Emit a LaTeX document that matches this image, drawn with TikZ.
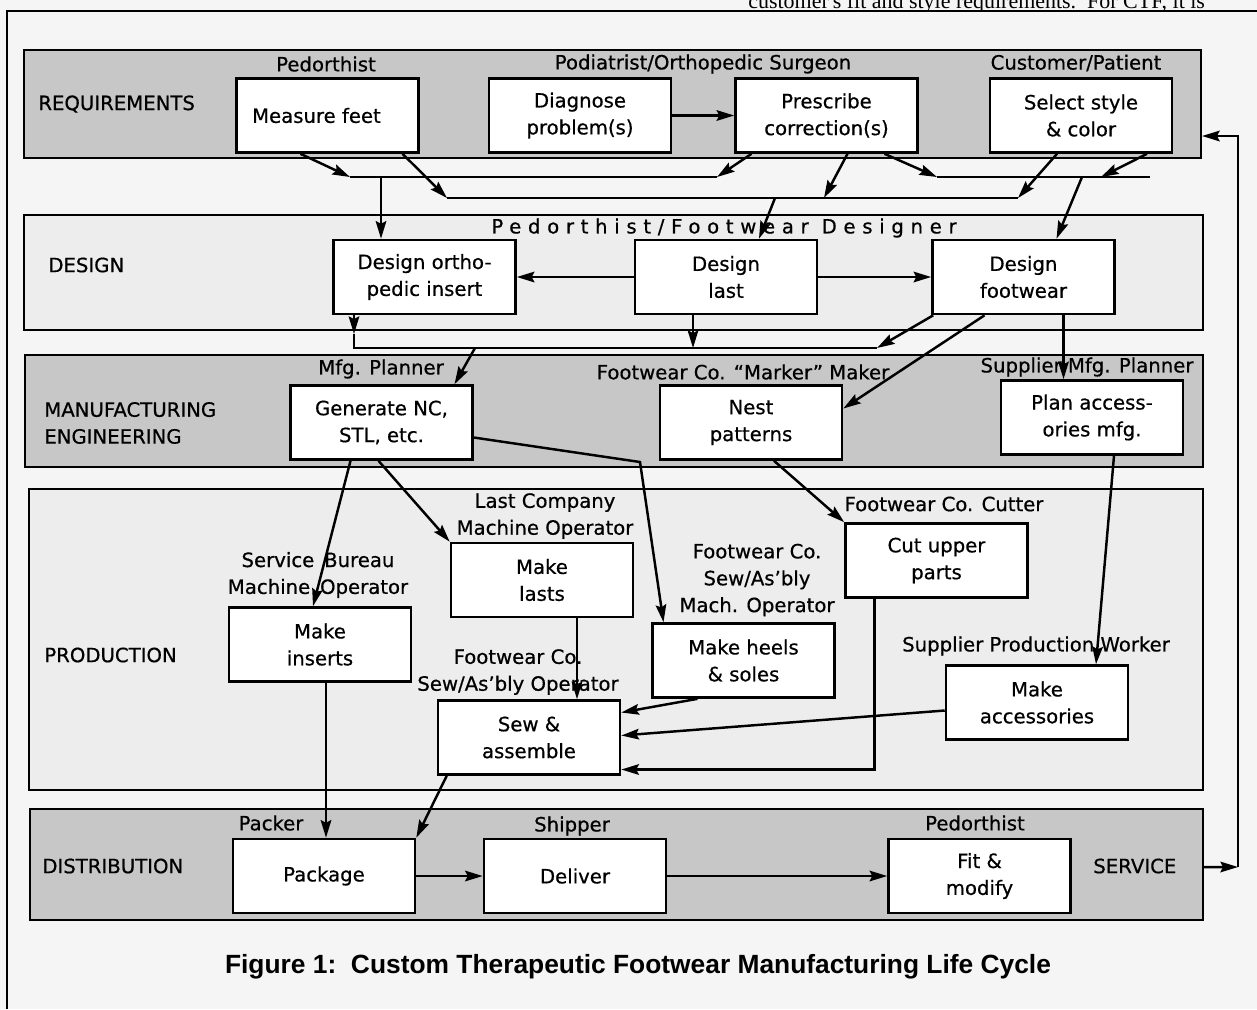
\documentclass[tikz,border=0pt]{standalone}
\usepackage{fontspec}
\setmainfont{DejaVu Sans}[UprightFeatures={FakeBold=0.6}]
\newfontfamily\captionfont{Liberation Sans}
\newfontfamily\paperfont{Liberation Serif}
\usepackage{tikz}
\usetikzlibrary{arrows.meta, calc}

\begin{document}
\begin{tikzpicture}[x=0.02cm, y=-0.02cm, font=\fontsize{11.2}{15.3}\selectfont]

\tikzstyle{band} = [rectangle, draw=black, line width=1.3pt, inner sep=0pt]
\tikzstyle{darkband} = [band, fill=black!22]
\tikzstyle{lightband} = [band, fill=black!7]
\tikzstyle{process} = [rectangle, draw=black, line width=1.5pt, fill=white, minimum width=3.64cm, minimum height=1.48cm, align=center, inner sep=0pt]
\tikzstyle{role} = [align=center, inner sep=0pt]
\tikzstyle{phase} = [anchor=west, align=left, inner sep=0pt]
\tikzstyle{arrow} = [line width=1.4pt, -{Stealth[length=10pt,width=6pt,inset=1.5pt]}]
\tikzstyle{bus} = [line width=1.4pt]

\useasboundingbox (0,0) rectangle (1257,1009);
\fill [black!4] (0,0) rectangle (1257,1009);
\draw [line width=0.7pt] (7,1009) -- (7,11) -- (1257,11);
\begin{scope}
\clip (700,0) rectangle (1257,11);
\node (paper) [anchor=base west, inner sep=0pt] at (748,8) {\paperfont\fontsize{12.5}{14}\selectfont customer's fit and style requirements.\ \ For CTF, it is};
\end{scope}

% bands
\node (reqband) [darkband, minimum width=23.54cm, minimum height=2.16cm] at (612.5,104) {};
\node (designband) [lightband, minimum width=23.58cm, minimum height=2.30cm] at (613.5,272.5) {};
\node (mfgband) [darkband, minimum width=23.56cm, minimum height=2.24cm] at (614,411) {};
\node (prodband) [lightband, minimum width=23.48cm, minimum height=6.02cm] at (616,639.5) {};
\node (distband) [darkband, minimum width=23.46cm, minimum height=2.22cm] at (616.5,864.5) {};

\node (preq) [phase] at (38,104) {REQUIREMENTS};
\node (pdes) [phase] at (48,265) {DESIGN};
\node (pmfg) [phase] at (44,423) {MANUFACTURING\\ENGINEERING};
\node (pprod) [phase] at (44,655) {PRODUCTION};
\node (pdist) [phase] at (42,866) {DISTRIBUTION};
\node (pserv) [phase] at (1093,866) {SERVICE};

% boxes
\node (measure) [process] at (327.5,115.5) {Measure feet\hspace*{0.44cm}};
\node (diagnose) [process] at (580,115.5) {Diagnose\\problem(s)};
\node (prescribe) [process] at (826.5,115.5) {Prescribe\\correction(s)};
\node (select) [process] at (1081,115.5) {Select style\\\& color};
\node (ortho) [process] at (424.5,277) {Design ortho-\\pedic insert};
\node (dlast) [process] at (726,277) {Design\\last};
\node (dfoot) [process] at (1023.5,277) {Design\\footwear};
\node (gennc) [process] at (381.5,422.5) {Generate NC,\\STL, etc.};
\node (nest) [process] at (751,422.5) {Nest\\patterns};
\node (planacc) [process] at (1092,417.5) {Plan access-\\ories mfg.};
\node (inserts) [process] at (320,644.5) {Make\\inserts};
\node (lasts) [process] at (542,580) {Make\\lasts};
\node (heels) [process] at (743.5,660.5) {Make heels\\\& soles};
\node (cut) [process] at (936.5,560.5) {Cut upper\\parts};
\node (acc) [process] at (1037,702.5) {Make\\accessories};
\node (sew) [process] at (529,737.5) {Sew \&\\assemble};
\node (package) [process] at (324,876) {Package};
\node (deliver) [process] at (575,876) {Deliver};
\node (fit) [process] at (979.5,876) {Fit \&\\modify};

% requirements -> design
\coordinate (a1) at (350,177);
\coordinate (a2) at (717,177);
\coordinate (a3) at (381,177);
\coordinate (b1) at (447,198);
\coordinate (b2) at (1018,198);
\coordinate (b3) at (824,198);
\coordinate (b4) at (775,198);
\coordinate (c1) at (937,177);
\coordinate (c2) at (1150,177);
\coordinate (c3) at (1101,177);
\coordinate (c4) at (1082,177);
\draw [bus] (a1) -- (a2);
\draw [bus] (b1) -- (b2);
\draw [bus] (c1) -- (c2);
\draw [arrow] (diagnose.east) -- (prescribe.west);
\draw [arrow] ($(measure.south)+(-27,0)$) -- (a1);
\draw [arrow] ($(measure.south)+(75,0)$) -- (b1);
\draw [arrow] ($(prescribe.south)+(-75,0)$) -- (a2);
\draw [arrow] ($(prescribe.south)+(21,0)$) -- (b3);
\draw [arrow] ($(prescribe.south)+(58,0)$) -- (c1);
\draw [arrow] ($(select.south)+(-24,0)$) -- (b2);
\draw [arrow] ($(select.south)+(66,0)$) -- (c3);
\draw [arrow] (a3) -- (a3 |- ortho.north);
\draw [arrow] (b4) -- ($(dlast.north)+(33,0)$);
\draw [arrow] (c4) -- ($(dfoot.north)+(33,0)$);

\draw [arrow] (dlast.west) -- (ortho.east);
\draw [arrow] (dlast.east) -- (dfoot.west);

% design -> manufacturing engineering
\coordinate (d0) at (354,334);
\coordinate (d1) at (354,348);
\coordinate (d2) at (877,348);
\coordinate (d3) at (475,348);
\draw [arrow] (d0 |- ortho.south) -- (d0);
\draw [bus] (d0) -- (d1) -- (d2);
\coordinate (dl) at ($(dlast.south)+(-33,0)$);
\draw [arrow] (dl) -- (dl |- d1);
\draw [arrow] ($(dfoot.south west)+(2,0)$) -- (d2);
\draw [arrow] (d3) -- ($(gennc.north)+(73,0)$);
\draw [arrow] ($(dfoot.south)+(-39,0)$) -- ($(nest.east)+(0,-14)$);
\coordinate (df) at ($(dfoot.south)+(40,0)$);
\draw [arrow] (df) -- (df |- planacc.north);

% manufacturing engineering -> production
\coordinate (g1) at (640,462);
\draw [arrow] ($(gennc.south)+(-31,0)$) -- ($(inserts.north)+(-7,0)$);
\draw [arrow] ($(gennc.south)+(-3,0)$) -- (lasts.north west);
\draw [arrow] ($(gennc.east)+(0,15)$) -- (g1) -- ($(heels.north)+(-80,0)$);
\draw [arrow] ($(nest.south)+(23,0)$) -- (cut.north west);
\draw [arrow] ($(planacc.south)+(22,0)$) -- ($(acc.north)+(59,0)$);

\coordinate (ls) at ($(lasts.south)+(35,0)$);
\draw [arrow] (ls) -- (ls |- sew.north);
\draw [arrow] ($(heels.south)+(-46,0)$) -- ($(sew.east)+(0,-25)$);
\draw [arrow] ($(acc.west)+(0,8)$) -- ($(sew.east)+(0,-2)$);
\draw [arrow] ($(cut.south)+(-62,0)$) |- ($(sew.east)+(0,32)$);

% production -> distribution
\coordinate (is) at ($(inserts.south)+(6,0)$);
\draw [arrow] (is) -- (is |- package.north);
\draw [arrow] ($(sew.south west)+(10,0)$) -- (package.north east);
\draw [arrow] (package.east) -- (deliver.west);
\draw [arrow] (deliver.east) -- (fit.west);

% service back to requirements
\coordinate (fb) at (1238,867);
\draw [arrow] ($(distband.east)+(0,2.5)$) -- (fb);
\draw [arrow] (fb) |- ($(reqband.east)+(0,32)$);

% who does it
\node (lpedo) [role] at (326,64) {Pedorthist};
\node (lpodi) [role] at (703,64) {Podiatrist/Orthopedic Surgeon};
\node (lcust) [role] at (1076,63) {Customer/Patient};
\node (ldesigner) [role] at (724,228) {\addfontfeature{LetterSpace=34}Pedorthist/Footwear Designer};
\node (lmfg) [role] at (381,369) {Mfg. Planner};
\node (lmarker) [role] at (743,372) {Footwear Co. ``Marker'' Maker};
\node (lsupp) [role] at (1087,367) {Supplier Mfg. Planner};
\node (llast) [role] at (545,516) {Last Company\\Machine Operator};
\node (lbureau) [role] at (318,575) {Service\enspace Bureau\\Machine\enspace Operator};
\node (lheels) [role] at (757,580) {Footwear Co.\\Sew/As'bly\\Mach. Operator};
\node (lcutter) [role] at (944,504) {Footwear Co. Cutter};
\node (lsew) [role] at (518,672) {Footwear Co.\\Sew/As'bly Operator};
\node (lprodw) [role] at (1036,646) {Supplier Production Worker};
\node (lpacker) [role] at (271,823) {Packer};
\node (lshipper) [role] at (572,826) {Shipper};
\node (lfit) [role] at (975,823) {Pedorthist};

\node (caption) at (638,967) {\captionfont\bfseries\fontsize{15}{18}\selectfont Figure 1:\ \ Custom Therapeutic Footwear Manufacturing Life Cycle};
\end{tikzpicture}
\end{document}
